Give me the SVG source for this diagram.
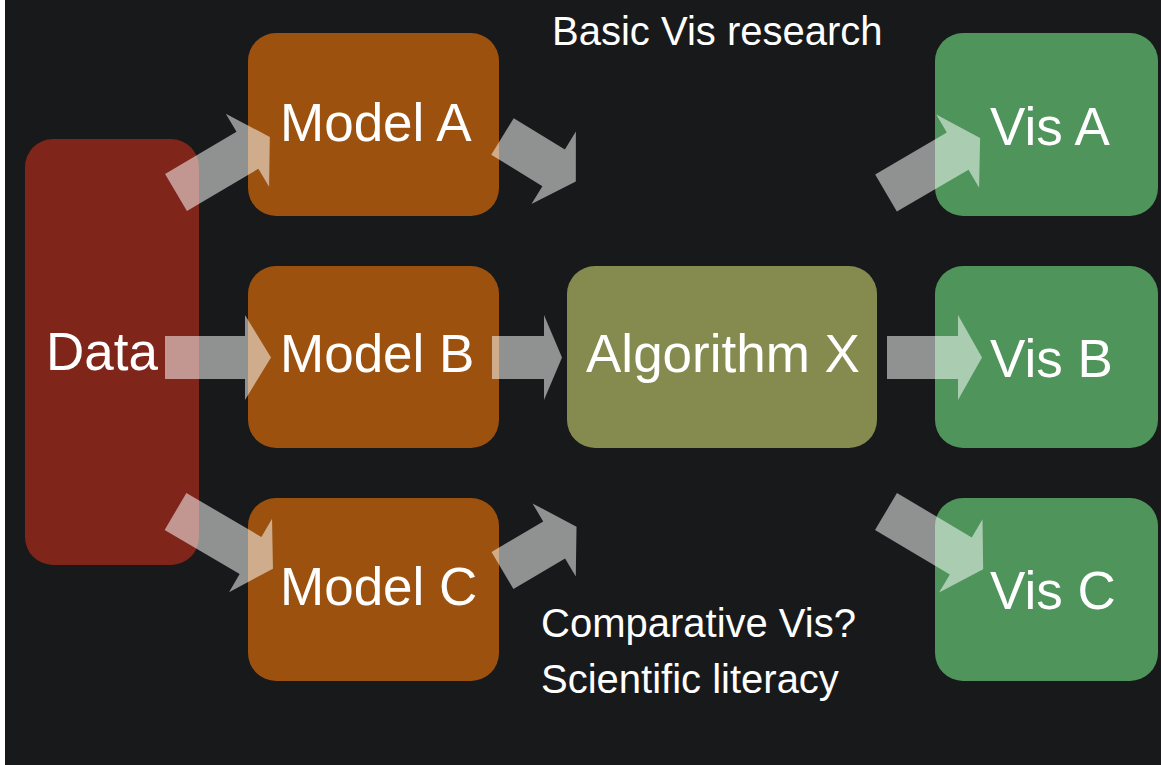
<svg xmlns="http://www.w3.org/2000/svg" width="1161" height="765" viewBox="0 0 1161 765">
  <style>
    .box { stroke: none; }
    .data { fill: #7f251a; }
    .model { fill: #9c520e; }
    .algo { fill: #858a4f; }
    .vis { fill: #4f945a; }
    .label { font-family: "Liberation Sans", Arial, sans-serif; font-size: 53px; fill: #ffffff; }
    .note { font-family: "Liberation Sans", Arial, sans-serif; font-size: 40px; fill: #ffffff; }
    .arrow { fill: #ffffff; fill-opacity: 0.52; }
  </style>
  <rect x="0" y="0" width="1161" height="765" fill="#18191b"/>
  <rect x="0" y="0" width="5" height="765" fill="#ffffff"/>

  <g id="data">
    <rect class="box data" x="25" y="139" width="174" height="426" rx="28"/>
    <text class="label" x="46" y="370">Data</text>
  </g>
  <g id="model-a">
    <rect class="box model" x="248" y="33" width="251" height="183" rx="28"/>
    <text class="label" x="280" y="141">Model A</text>
  </g>
  <g id="model-b">
    <rect class="box model" x="248" y="266" width="251" height="182" rx="28"/>
    <text class="label" x="280" y="372">Model B</text>
  </g>
  <g id="model-c">
    <rect class="box model" x="248" y="498" width="251" height="183" rx="28"/>
    <text class="label" x="280" y="605">Model C</text>
  </g>
  <g id="algorithm-x">
    <rect class="box algo" x="567" y="266" width="310" height="182" rx="28"/>
    <text class="label" x="586" y="372">Algorithm X</text>
  </g>
  <g id="vis-a">
    <rect class="box vis" x="935" y="33" width="223" height="183" rx="28"/>
    <text class="label" x="990" y="145">Vis A</text>
  </g>
  <g id="vis-b">
    <rect class="box vis" x="935" y="266" width="223" height="182" rx="28"/>
    <text class="label" x="990" y="377">Vis B</text>
  </g>
  <g id="vis-c">
    <rect class="box vis" x="935" y="498" width="223" height="183" rx="28"/>
    <text class="label" x="990" y="609">Vis C</text>
  </g>

  <g id="notes">
    <text class="note" x="552" y="45">Basic Vis research</text>
    <text class="note" x="541" y="637">Comparative Vis?</text>
    <text class="note" x="541" y="693">Scientific literacy</text>
  </g>

  <!-- block arrows: shaft from the base point, then a triangular head -->
  <g id="connectors">
    <path class="arrow" transform="translate(176 192.5) rotate(-30.6)" d="M0,-21.5 H83 V-42.5 L109,0 L83,42.5 V21.5 H0 Z"/>
    <path class="arrow" transform="translate(165 357.5)" d="M0,-21.5 H80 V-42.5 L106,0 L80,42.5 V21.5 H0 Z"/>
    <path class="arrow" transform="translate(175.5 511.5) rotate(30.4)" d="M0,-21.5 H87 V-42.5 L113,0 L87,42.5 V21.5 H0 Z"/>
    <path class="arrow" transform="translate(502.5 136.5) rotate(31.5)" d="M0,-21.5 H60 V-42.5 L86,0 L60,42.5 V21.5 H0 Z"/>
    <path class="arrow" transform="translate(492 357.5)" d="M0,-21.5 H52 V-42.5 L70,0 L52,42.5 V21.5 H0 Z"/>
    <path class="arrow" transform="translate(502.5 570.5) rotate(-30.6)" d="M0,-21.5 H60 V-42.5 L86,0 L60,42.5 V21.5 H0 Z"/>
    <path class="arrow" transform="translate(886 193) rotate(-30.3)" d="M0,-21.5 H83 V-42.5 L109,0 L83,42.5 V21.5 H0 Z"/>
    <path class="arrow" transform="translate(887 357.5)" d="M0,-21.5 H71 V-42.5 L95,0 L71,42.5 V21.5 H0 Z"/>
    <path class="arrow" transform="translate(886 511.5) rotate(30.7)" d="M0,-21.5 H87 V-42.5 L113,0 L87,42.5 V21.5 H0 Z"/>
  </g>
</svg>
